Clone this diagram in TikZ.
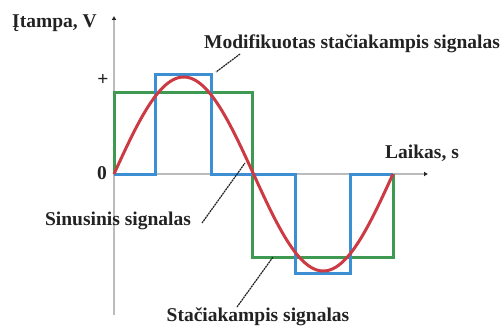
\documentclass[tikz,border=0pt]{standalone}
\usepackage{fontspec}
\setmainfont{Liberation Serif}
\usetikzlibrary{arrows.meta,positioning,calc}
\definecolor{sqline}{HTML}{3E9A52}
\definecolor{modline}{HTML}{3C8FD2}
\definecolor{sinline}{HTML}{CC3A44}
\definecolor{axgray}{HTML}{BBBBBB}
\definecolor{inkdark}{HTML}{222222}

\begin{document}
\begin{tikzpicture}[
  x=1pt, y=-1pt,
  font=\fontsize{19.5}{22}\selectfont\bfseries,
  axis/.style = {draw=axgray, line width=2.8pt, -{Latex[length=4pt,width=5pt,color=inkdark]}},
  sq/.style   = {draw=sqline, line width=3pt},
  mod/.style  = {draw=modline, line width=3pt},
  sinus/.style= {draw=sinline, line width=3pt},
  lead/.style = {draw=inkdark, line width=1.2pt, dash pattern=on 2pt off 0.7pt},
  lbl/.style  = {text=inkdark, inner sep=1pt},
]
\useasboundingbox (0,0) rectangle (502,329);

% --- axes ------------------------------------------------------------------------------------
\coordinate (o) at (114,174);
\draw[axis] (114,315) -- (114,16);
\draw[axis] (o) -- (428,174);

% --- the three signals -----------------------------------------------------------------------
\draw[sq] (o) -- (114,92) -- (252,92) -- (252,257) -- (393,257) -- (393,174);
\draw[mod] (o) -- (155,174) -- (155,74) -- (211,74) -- (211,174) -- (295,174)
  -- (295,273) -- (350,273) -- (350,174) -- (393,174);
\draw[sinus] plot[domain=0:279, samples=120, smooth] ({114+\x}, {174-97*sin(1.29032*\x)});

% --- axis labels -----------------------------------------------------------------------------
\node[lbl, anchor=west] (vlab) at (11,23) {Įtampa, V};
\node[lbl] (plus) at (103,80) {+};
\node[lbl] (zero) at (102,173) {0};
\node[lbl] (tlab) at (422,153) {Laikas, s};

% --- signal names with leaders ---------------------------------------------------------------
\node[lbl] (modname) at (352,44) {Modifikuotas stačiakampis signalas};
\node[lbl] (sinname) at (118,221) {Sinusinis signalas};
\node[lbl] (sqname)  at (258,317) {Stačiakampis signalas};

\coordinate (modfoot) at (240,54);
\coordinate (modtip)  at (216,72);
\coordinate (sinfoot) at (202,223);
\coordinate (sintip)  at (245,163);
\coordinate (sqfoot)  at (237,307);
\coordinate (sqtip)   at (273,257);

\draw[lead] (modfoot) -- (modtip);
\draw[lead] (sinfoot) -- (sintip);
\draw[lead] (sqfoot) -- (sqtip);

\end{tikzpicture}
\end{document}
